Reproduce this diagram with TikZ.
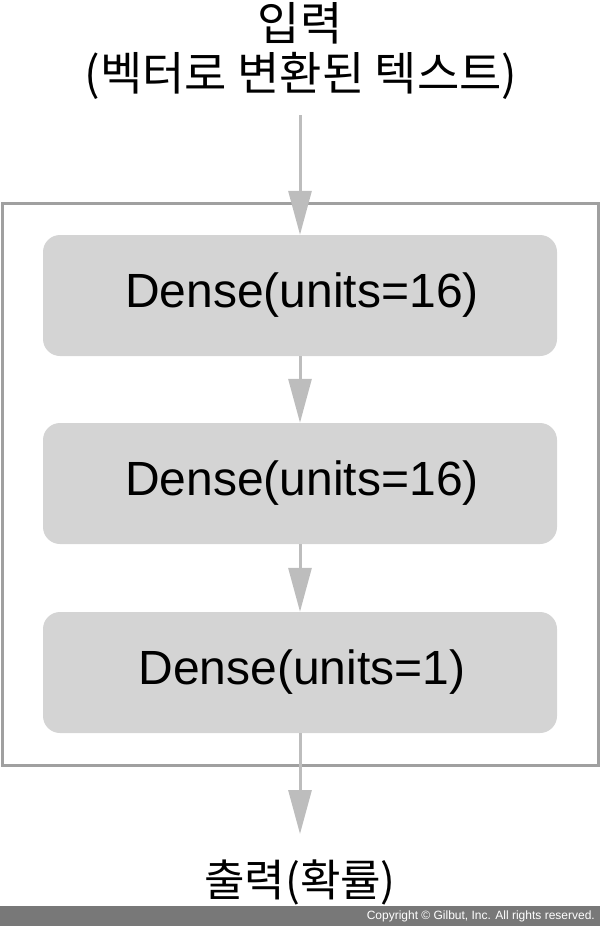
\documentclass[tikz,border=0pt]{standalone}
\usepackage{fontspec}
\setmainfont{Liberation Sans}
\newfontfamily\kr{Noto Sans CJK KR}
\usetikzlibrary{arrows.meta}
\definecolor{boxfill}{HTML}{D4D4D4}
\definecolor{framec}{HTML}{A0A0A0}
\definecolor{arrc}{HTML}{BDBDBD}
\definecolor{barc}{HTML}{787878}
\tikzset{
  layerbox/.style={fill=boxfill, draw=none, rounded corners=17pt, minimum width=514pt, minimum height=121pt, inner sep=0pt, font=\fontsize{48}{56}\selectfont},
  arr/.style={draw=arrc, line width=3pt, -{Triangle[length=44pt,width=23pt,fill=arrc]}},
  krtext/.style={font=\kr\fontsize{46}{54}\selectfont, inner sep=0pt}
}
\begin{document}
\begin{tikzpicture}[x=1pt,y=-1pt]
\useasboundingbox (0,0) rectangle (600,926);
\fill[barc] (0,906) rectangle (600,926);
\node[anchor=east, text=white, font=\fontsize{12}{14}\selectfont, inner sep=0pt] (copy) at (595,916) {Copyright © Gilbut, Inc. All rights reserved.};
\draw[framec, line width=3pt] (2,203) rectangle (598,765);
\node[krtext] (in1) at (300,23) {입력};
\node[krtext] (in2) at (301,76) {(벡터로 변환된 텍스트)};
\node[layerbox] (b1) at (300,295.5) {\hspace*{4pt}Dense(units=16)};
\node[layerbox] (b2) at (300,483.5) {\hspace*{4pt}Dense(units=16)};
\node[layerbox] (b3) at (300,672.5) {\hspace*{4pt}Dense(units=1)};
\node[krtext, font=\kr\fontsize{44}{52}\selectfont] (out) at (300,882) {출력(확률)};
\coordinate (instart) at (300,115);
\coordinate (outend) at (300,834);
\draw[arr] (instart) -- (b1.north);
\draw[arr] (b1.south) -- (b2.north);
\draw[arr] (b2.south) -- (b3.north);
\draw[arr] (b3.south) -- (outend);
\end{tikzpicture}
\end{document}
